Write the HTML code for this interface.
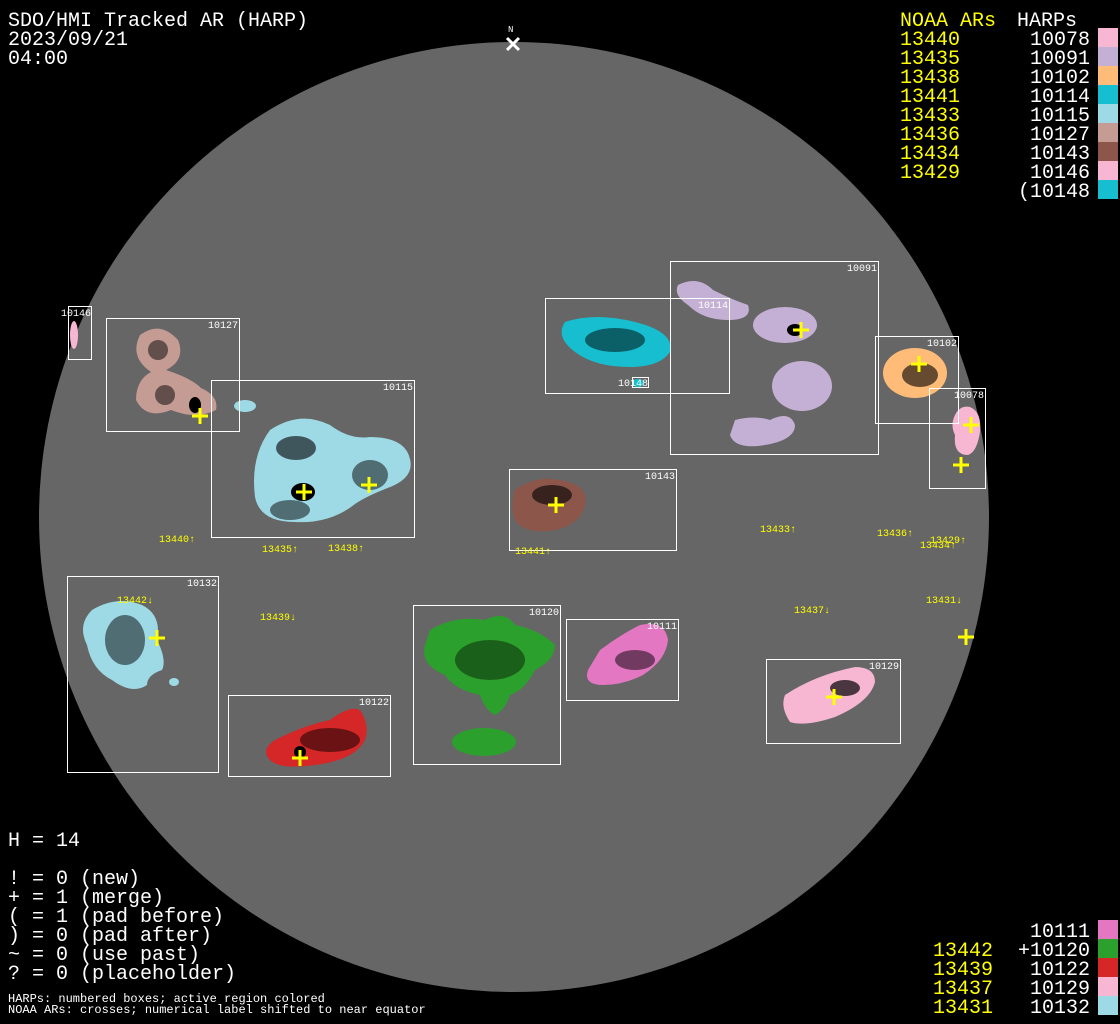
<!DOCTYPE html><html><head><style>body{margin:0;background:#000}svg{display:block}text{font-family:"Liberation Mono","DejaVu Sans Mono",monospace}</style></head><body>
<svg width="1120" height="1024" xmlns="http://www.w3.org/2000/svg">
<rect width="1120" height="1024" fill="#000"/>
<circle cx="514" cy="517" r="475" fill="#666"/>
<g font-size="20" fill="#fff">
<text x="8" y="26">SDO/HMI Tracked AR (HARP)</text>
<text x="8" y="45">2023/09/21</text>
<text x="8" y="64">04:00</text>
<text x="8" y="846">H = 14</text>
<text x="8" y="884">! = 0 (new)</text>
<text x="8" y="903">+ = 1 (merge)</text>
<text x="8" y="922">( = 1 (pad before)</text>
<text x="8" y="941">) = 0 (pad after)</text>
<text x="8" y="960">~ = 0 (use past)</text>
<text x="8" y="979">? = 0 (placeholder)</text>
</g>
<g font-size="12" fill="#fff"><text x="8" y="1002">HARPs: numbered boxes; active region colored</text><text x="8" y="1013">NOAA ARs: crosses; numerical label shifted to near equator</text></g>
<text x="508" y="32" font-size="9" fill="#fff">N</text>
<path d="M507 38l12 12M519 38l-12 12" stroke="#fff" stroke-width="3"/>
<g font-size="20" fill="#ff0"><text x="900" y="26">NOAA ARs</text>
<text x="900" y="45">13440</text><text x="900" y="64">13435</text><text x="900" y="83">13438</text><text x="900" y="102">13441</text><text x="900" y="121">13433</text><text x="900" y="140">13436</text><text x="900" y="159">13434</text><text x="900" y="178">13429</text>
<text x="933" y="956">13442</text><text x="933" y="975">13439</text><text x="933" y="994">13437</text><text x="933" y="1013">13431</text></g>
<text x="1017" y="26" font-size="20" fill="#fff">HARPs</text>
<g font-size="20" fill="#fff" text-anchor="end">
<text x="1090" y="45">10078</text><text x="1090" y="64">10091</text><text x="1090" y="83">10102</text><text x="1090" y="102">10114</text><text x="1090" y="121">10115</text><text x="1090" y="140">10127</text><text x="1090" y="159">10143</text><text x="1090" y="178">10146</text><text x="1090" y="197">(10148</text>
<text x="1090" y="937">10111</text><text x="1090" y="956">+10120</text><text x="1090" y="975">10122</text><text x="1090" y="994">10129</text><text x="1090" y="1013">10132</text></g>
<g>
<rect x="1098" y="28" width="20" height="19" fill="#f7b6d2"/><rect x="1098" y="47" width="20" height="19" fill="#c5b0d5"/><rect x="1098" y="66" width="20" height="19" fill="#ffbb78"/><rect x="1098" y="85" width="20" height="19" fill="#17becf"/><rect x="1098" y="104" width="20" height="19" fill="#9edae5"/><rect x="1098" y="123" width="20" height="19" fill="#c49c94"/><rect x="1098" y="142" width="20" height="19" fill="#8c564b"/><rect x="1098" y="161" width="20" height="19" fill="#f7b6d2"/><rect x="1098" y="180" width="20" height="19" fill="#17becf"/>
<rect x="1098" y="920" width="20" height="19" fill="#e377c2"/><rect x="1098" y="939" width="20" height="19" fill="#2ca02c"/><rect x="1098" y="958" width="20" height="19" fill="#d62728"/><rect x="1098" y="977" width="20" height="19" fill="#f7b6d2"/><rect x="1098" y="996" width="20" height="19" fill="#9edae5"/>
</g>
<g>
<ellipse cx="74" cy="335" rx="4" ry="14" fill="#f7b6d2"/>
<path d="M140 335q20-15 38 5q8 20-12 30q25 8 35 18q18 8 15 22q-20 10-45 0q-25 10-35-10q0-20 15-28q-22-15-11-37z" fill="#c49c94"/>
<ellipse cx="245" cy="406" rx="11" ry="6" fill="#9edae5"/>
<path d="M270 430q30-20 60-5q20 15 40 12q35 0 40 22q5 20-25 30q-20 8-30 15q-25 20-60 18q-35 0-40-25q-5-40 15-67z" fill="#9edae5"/>
<path d="M565 322q30-10 70 0q40 10 35 30q-10 15-40 15q-35 0-55-15q-20-15-10-30z" fill="#17becf"/>
<ellipse cx="638" cy="383" rx="6" ry="4" fill="#17becf"/>
<path d="M678 285q20-10 35 5q20 10 35 15q5 15-20 15q-25 0-40-15q-15-10-10-20z" fill="#c5b0d5"/>
<ellipse cx="785" cy="325" rx="32" ry="18" fill="#c5b0d5"/>
<ellipse cx="802" cy="386" rx="30" ry="25" fill="#c5b0d5"/>
<path d="M735 420q20-5 35 0q20-10 25 5q0 15-30 20q-30 5-35-10z" fill="#c5b0d5"/>
<ellipse cx="915" cy="373" rx="32" ry="25" fill="#ffbb78"/>
<path d="M955 415q5-10 15-8q12 5 10 25q-3 20-12 23q-15 0-13-20q-5-10 0-20z" fill="#f7b6d2"/>
<path d="M515 490q20-15 45-10q30 5 25 25q-5 20-30 25q-30 5-40-10q-5-15 0-30z" fill="#8c564b"/>
<path d="M92 610q25-15 50-5q20 10 15 35q10 20 5 30q-15 5-15 15q-15 10-35-5q-20-10-25-35q-10-20 5-35z" fill="#9edae5"/>
<ellipse cx="174" cy="682" rx="5" ry="4" fill="#9edae5"/>
<path d="M430 630q25-15 55-10q20-10 30 5q25 5 40 20q0 15-20 25q-10 20-25 25q-5 15-15 20q-10-5-15-20q-25-5-35-20q-25-10-20-30z" fill="#2ca02c"/>
<ellipse cx="484" cy="742" rx="32" ry="14" fill="#2ca02c"/>
<path d="M600 650q20-15 40-25q25-5 28 15q-2 20-25 35q-20 10-40 10q-20 0-15-15z" fill="#e377c2"/>
<path d="M275 740q30-15 55-20q20-15 30-10q10 15 5 30q-10 20-50 25q-35 5-45-5q-10-10 5-20z" fill="#d62728"/>
<path d="M785 695q30-20 70-28q20 0 20 15q-5 20-40 35q-30 10-45 5q-10-15-5-27z" fill="#f7b6d2"/>
</g>
<g fill="#000">
<ellipse cx="303" cy="492" rx="12" ry="9"/><ellipse cx="296" cy="448" rx="20" ry="12" opacity=".6"/><ellipse cx="370" cy="475" rx="18" ry="15" opacity=".5"/><ellipse cx="290" cy="510" rx="20" ry="10" opacity=".5"/>
<ellipse cx="195" cy="405" rx="6" ry="8"/><ellipse cx="158" cy="350" rx="10" ry="10" opacity=".5"/><ellipse cx="165" cy="395" rx="10" ry="10" opacity=".5"/>
<ellipse cx="615" cy="340" rx="30" ry="12" opacity=".5"/><ellipse cx="795" cy="330" rx="8" ry="6"/><ellipse cx="920" cy="375" rx="18" ry="12" opacity=".6"/>
<ellipse cx="552" cy="495" rx="20" ry="10" opacity=".6"/><ellipse cx="125" cy="640" rx="20" ry="25" opacity=".5"/><ellipse cx="490" cy="660" rx="35" ry="20" opacity=".4"/>
<ellipse cx="330" cy="740" rx="30" ry="12" opacity=".5"/><ellipse cx="300" cy="752" rx="6" ry="6"/><ellipse cx="635" cy="660" rx="20" ry="10" opacity=".5"/><ellipse cx="845" cy="688" rx="15" ry="8" opacity=".7"/>
</g>
<g fill="none" stroke="#fff" stroke-width="1">
<rect x="68.5" y="306.5" width="23" height="53"/><rect x="106.5" y="318.5" width="133" height="113"/><rect x="211.5" y="380.5" width="203" height="157"/>
<rect x="545.5" y="298.5" width="184" height="95"/><rect x="670.5" y="261.5" width="208" height="193"/><rect x="875.5" y="336.5" width="83" height="87"/><rect x="929.5" y="388.5" width="56" height="100"/>
<rect x="509.5" y="469.5" width="167" height="81"/><rect x="67.5" y="576.5" width="151" height="196"/><rect x="413.5" y="605.5" width="147" height="159"/><rect x="566.5" y="619.5" width="112" height="81"/>
<rect x="228.5" y="695.5" width="162" height="81"/><rect x="766.5" y="659.5" width="134" height="84"/><rect x="632.5" y="377.5" width="16" height="10"/>
</g>
<g font-size="10" fill="#fff" text-anchor="end">
<text x="91" y="316">10146</text><text x="238" y="328">10127</text><text x="413" y="390">10115</text><text x="728" y="308">10114</text><text x="877" y="271">10091</text><text x="957" y="346">10102</text><text x="984" y="398">10078</text>
<text x="675" y="479">10143</text><text x="217" y="586">10132</text><text x="559" y="615">10120</text><text x="677" y="629">10111</text><text x="389" y="705">10122</text><text x="899" y="669">10129</text><text x="648" y="386">10148</text>
</g>
<g font-size="10" fill="#ff0">
<text x="159" y="542">13440↑</text><text x="262" y="552">13435↑</text><text x="328" y="551">13438↑</text><text x="515" y="554">13441↑</text><text x="760" y="532">13433↑</text><text x="877" y="536">13436↑</text><text x="920" y="548">13434↑</text><text x="930" y="543">13429↑</text>
<text x="117" y="603">13442↓</text><text x="260" y="620">13439↓</text><text x="794" y="613">13437↓</text><text x="926" y="603">13431↓</text>
</g>
<g stroke="#ff0" stroke-width="3">
<path d="M192 416h16M200 408v16M296 492h16M304 484v16M361 485h16M369 477v16M793 330h16M801 322v16M911 364h16M919 356v16M963 425h16M971 417v16M953 465h16M961 457v16M548 505h16M556 497v16M149 638h16M157 630v16M292 758h16M300 750v16M826 697h16M834 689v16M958 637h16M966 629v16"/>
</g>
</svg></body></html>
